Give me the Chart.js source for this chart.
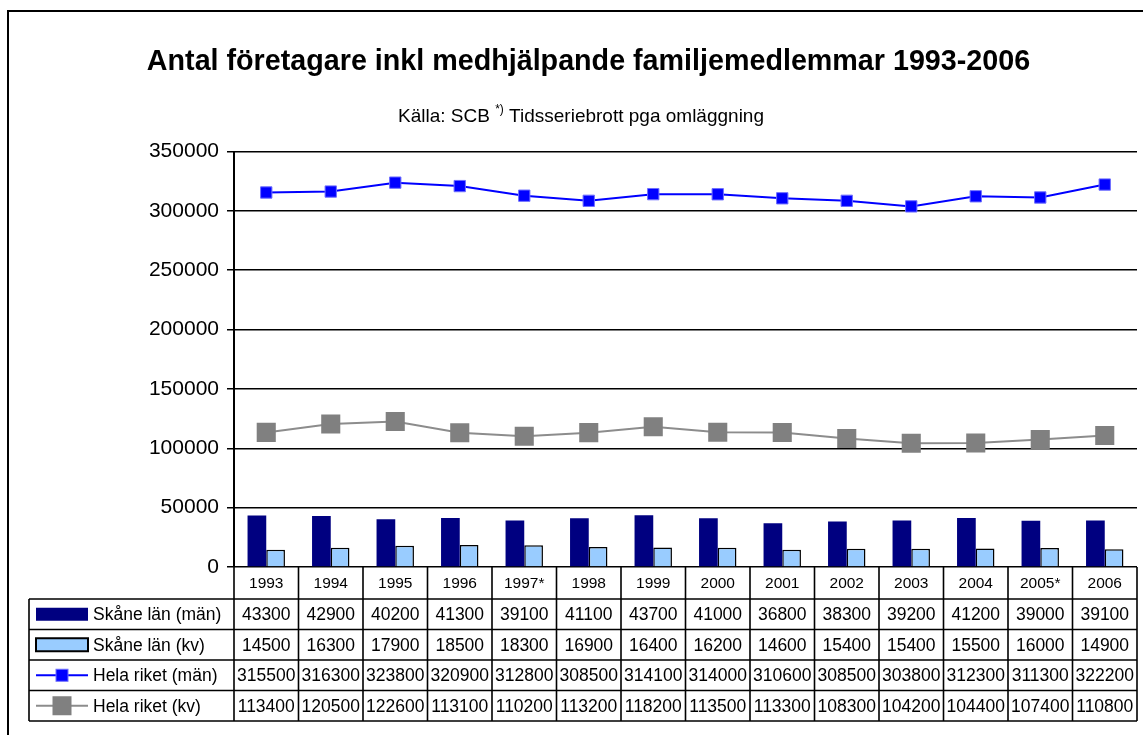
<!DOCTYPE html>
<html>
<head>
<meta charset="utf-8">
<script src="https://cdn.jsdelivr.net/npm/chart.js@4"></script>
<style>
  html, body { margin: 0; padding: 0; background: #fff; }
  #wrap { width: 1143px; height: 735px; }
</style>
</head>
<body>
<div id="wrap"><canvas id="c" width="1143" height="735"></canvas></div>
<script>
const years = ['1993','1994','1995','1996','1997*','1998','1999','2000','2001','2002','2003','2004','2005*','2006'];
const skaneMan = [43300,42900,40200,41300,39100,41100,43700,41000,36800,38300,39200,41200,39000,39100];
const skaneKv  = [14500,16300,17900,18500,18300,16900,16400,16200,14600,15400,15400,15500,16000,14900];
const rikeMan  = [315500,316300,323800,320900,312800,308500,314100,314000,310600,308500,303800,312300,311300,322200];
const rikeKv   = [113400,120500,122600,113100,110200,113200,118200,113500,113300,108300,104200,104400,107400,110800];
const seriesNames = ['Skåne län (män)','Skåne län (kv)','Hela riket (män)','Hela riket (kv)'];
const titleText = 'Antal företagare inkl medhjälpande familjemedlemmar 1993-2006';
const subtitleParts = ['Källa: SCB ', '*)', ' Tidsseriebrott pga omläggning'];
const yMin = 0, yMax = 350000, yStep = 50000;

const FONT = '"Liberation Sans", Arial, Helvetica, sans-serif';

const framePlugin = {
  id: 'frame',
  beforeDraw(chart) {
    const ctx = chart.ctx;
    ctx.save();
    ctx.fillStyle = '#fff';
    ctx.fillRect(0, 0, chart.width, chart.height);
    ctx.strokeStyle = '#000';
    ctx.lineWidth = 2;
    ctx.beginPath();
    ctx.moveTo(8, chart.height + 2);
    ctx.lineTo(8, 11);
    ctx.lineTo(chart.width + 2, 11);
    ctx.stroke();
    ctx.restore();
  }
};

const subtitlePlugin = {
  id: 'subtitleSup',
  afterDraw(chart) {
    const ctx = chart.ctx;
    ctx.save();
    ctx.fillStyle = '#000';
    ctx.textBaseline = 'alphabetic';
    const mainFont = '19px ' + FONT;
    const supFont = '12px ' + FONT;
    ctx.font = mainFont;
    const w0 = ctx.measureText(subtitleParts[0]).width;
    const w2 = ctx.measureText(subtitleParts[2]).width;
    ctx.font = supFont;
    const w1 = ctx.measureText(subtitleParts[1]).width;
    const total = w0 + w1 + w2;
    let x = 581 - total / 2;
    const base = 122;
    ctx.font = mainFont; ctx.textAlign = 'left';
    ctx.fillText(subtitleParts[0], x, base); x += w0;
    ctx.font = supFont;
    ctx.fillText(subtitleParts[1], x, base - 9); x += w1;
    ctx.font = mainFont;
    ctx.fillText(subtitleParts[2], x, base);
    ctx.restore();
  }
};

const tablePlugin = {
  id: 'dataTable',
  afterDraw(chart) {
    const ctx = chart.ctx;
    const xs = chart.scales.x;
    const area = chart.chartArea;
    const n = chart.data.labels.length;
    const cw = (area.right - area.left) / n;
    const headTop = area.bottom;
    const rows = [599, 629.5, 660, 690.5, 721];
    const tableLeft = 29;
    const tableRight = area.right;
    ctx.save();
    ctx.strokeStyle = '#000';
    ctx.fillStyle = '#000';
    ctx.lineWidth = 1.6;
    ctx.beginPath();
    for (let i = 0; i <= n; i++) {
      const x = area.left + i * cw;
      ctx.moveTo(x, headTop);
      ctx.lineTo(x, rows[rows.length - 1]);
    }
    for (let r = 0; r < rows.length; r++) {
      ctx.moveTo(tableLeft, rows[r]);
      ctx.lineTo(tableRight, rows[r]);
    }
    ctx.moveTo(tableLeft, rows[0]);
    ctx.lineTo(tableLeft, rows[rows.length - 1]);
    ctx.stroke();

    ctx.textAlign = 'center';
    ctx.textBaseline = 'middle';
    ctx.font = '15.5px ' + FONT;
    chart.data.labels.forEach((lab, i) => {
      ctx.fillText(lab, xs.getPixelForValue(i), (headTop + rows[0]) / 2 + 1);
    });

    ctx.font = '17.5px ' + FONT;
    chart.data.datasets.forEach((ds, r) => {
      const yc = (rows[r] + rows[r + 1]) / 2 + 1;
      ds.data.forEach((v, i) => {
        ctx.fillText(String(v), xs.getPixelForValue(i), yc);
      });
    });

    ctx.textAlign = 'left';
    chart.data.datasets.forEach((ds, r) => {
      const yc = (rows[r] + rows[r + 1]) / 2;
      const kx0 = 36, kx1 = 88;
      if (ds.type === 'bar') {
        ctx.fillStyle = ds.backgroundColor;
        ctx.fillRect(kx0, yc - 6.5, kx1 - kx0, 13);
        if (ds.borderWidth) {
          ctx.lineWidth = 2;
          ctx.strokeStyle = ds.borderColor;
          ctx.strokeRect(kx0, yc - 6.5, kx1 - kx0, 13);
        }
      } else {
        ctx.strokeStyle = ds.borderColor;
        ctx.lineWidth = ds.borderWidth;
        ctx.beginPath();
        ctx.moveTo(kx0, yc); ctx.lineTo(kx1, yc);
        ctx.stroke();
        const s = ds.legendSize;
        const cx = (kx0 + kx1) / 2;
        ctx.fillStyle = ds.pointBackgroundColor;
        ctx.fillRect(cx - s / 2, yc - s / 2, s, s);
        if (ds.pointBorderWidth) {
          ctx.strokeStyle = ds.pointBorderColor;
          ctx.lineWidth = ds.pointBorderWidth;
          ctx.strokeRect(cx - s / 2, yc - s / 2, s, s);
        }
      }
      ctx.fillStyle = '#000';
      ctx.font = '17.5px ' + FONT;
      ctx.fillText(ds.label, 93, yc + 1);
    });
    ctx.restore();
  }
};

new Chart(document.getElementById('c'), {
  type: 'bar',
  data: {
    labels: years,
    datasets: [
      { type: 'bar', label: seriesNames[0], data: skaneMan, backgroundColor: '#000080',
        borderWidth: 0, order: 3, categoryPercentage: 0.58, barPercentage: 1 },
      { type: 'bar', label: seriesNames[1], data: skaneKv, backgroundColor: '#99CCFF',
        borderColor: '#000', borderWidth: 1.5, order: 3, categoryPercentage: 0.58, barPercentage: 1 },
      { type: 'line', label: seriesNames[2], data: rikeMan, borderColor: '#0000FF', borderWidth: 2,
        pointStyle: 'rect', pointRadius: 8, pointBackgroundColor: '#0000FF',
        pointBorderColor: '#6E6EFF', pointBorderWidth: 1, tension: 0, order: 1, legendSize: 12 },
      { type: 'line', label: seriesNames[3], data: rikeKv, borderColor: '#8C8C8C', borderWidth: 2,
        pointStyle: 'rect', pointRadius: 13.5, pointBackgroundColor: '#808080',
        pointBorderColor: '#808080', pointBorderWidth: 0, tension: 0, order: 2, legendSize: 19 }
    ]
  },
  plugins: [framePlugin, subtitlePlugin, tablePlugin],
  options: {
    responsive: false,
    animation: false,
    devicePixelRatio: 1,
    layout: { autoPadding: false, padding: { left: 40, right: 6, top: 0, bottom: 168 } },
    plugins: {
      legend: { display: false },
      tooltip: { enabled: false },
      title: {
        display: true,
        text: titleText,
        color: '#000',
        font: { family: FONT, size: 28.7, weight: 'bold', lineHeight: 1.2 },
        padding: { top: 44.5, bottom: 72.6 }
      }
    },
    scales: {
      x: { display: false, offset: true },
      y: {
        min: yMin, max: yMax,
        afterFit(s) { s.width = 194; },
        ticks: { stepSize: yStep, color: '#000', padding: 8, font: { family: FONT, size: 21 },
                 callback: (v) => String(v) },
        grid: { color: '#000', lineWidth: 1.5, tickLength: 7 },
        border: { display: true, color: '#000', width: 2 }
      }
    }
  }
});
</script>
</body>
</html>
